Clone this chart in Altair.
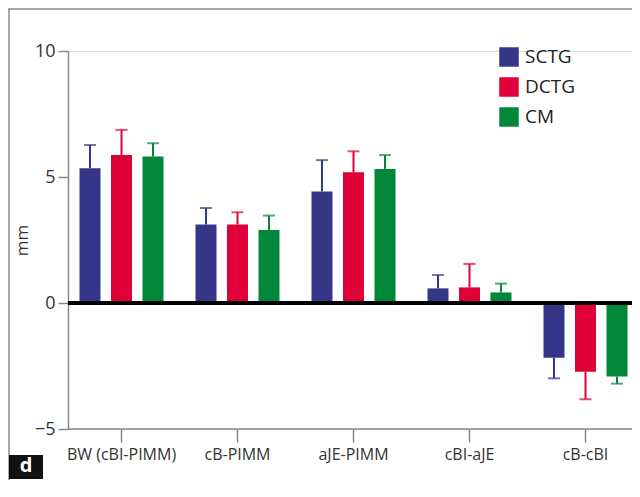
import altair as alt
import pandas as pd

categories = ["BW (cBI-PIMM)", "cB-PIMM", "aJE-PIMM", "cBI-aJE", "cB-cBI"]
groups = ["SCTG", "DCTG", "CM"]
colors = ["#363689", "#DF0038", "#00873A"]

sctg_mean = [5.35, 3.12, 4.42, 0.58, -2.17]
sctg_sd = [0.92, 0.65, 1.25, 0.53, 0.82]
dctg_mean = [5.87, 3.12, 5.19, 0.62, -2.73]
dctg_sd = [1.00, 0.48, 0.83, 0.93, 1.09]
cm_mean = [5.81, 2.90, 5.32, 0.42, -2.92]
cm_sd = [0.53, 0.57, 0.55, 0.35, 0.28]

rows = []
for g, means, sds in [("SCTG", sctg_mean, sctg_sd), ("DCTG", dctg_mean, dctg_sd), ("CM", cm_mean, cm_sd)]:
    for c, m, s in zip(categories, means, sds):
        rows.append({"category": c, "group": g, "mean": m,
                     "end": m + s if m >= 0 else m - s})
df = pd.DataFrame(rows)

FONT = "Open Sans"
W = 564
H = 378

x_enc = alt.X("category:N", sort=categories,
              scale=alt.Scale(paddingInner=0, paddingOuter=0, range=[-4.5, 575.5]),
              axis=alt.Axis(title=None, labelAngle=0, labelFontSize=16, labelColor="#333",
                            labelPadding=4, domain=False,
                            tickColor="#888", tickWidth=1.5, tickSize=13, labelFont=FONT))
xo_enc = alt.XOffset("group:N", sort=groups,
                     scale=alt.Scale(paddingInner=0.333, paddingOuter=0.508))
y_scale = alt.Scale(domain=[-5, 10], nice=False, zero=False)
color_enc = alt.Color("group:N", sort=groups,
                      scale=alt.Scale(domain=groups, range=colors),
                      legend=alt.Legend(title=None, orient="none", legendX=431, legendY=-4,
                                        symbolType="square", symbolSize=380,
                                        symbolStrokeWidth=0, labelFontSize=19,
                                        labelColor="#222", rowPadding=10, labelOffset=6,
                                        labelFont=FONT))

base = alt.Chart(df)

bars = base.mark_bar().encode(
    x=x_enc, xOffset=xo_enc,
    y=alt.Y("mean:Q", scale=y_scale,
            axis=alt.Axis(values=[-5, 0, 5, 10], title="mm", titleFontSize=17,
                          titleFontWeight="normal", titleColor="#333", titlePadding=3,
                          labelFontSize=18, labelColor="#333", labelPadding=3,
                          domainColor="#888", domainWidth=1.5, tickColor="#888",
                          tickWidth=1.5, tickSize=10, grid=False, labelFont=FONT,
                          titleFont=FONT)),
    color=color_enc,
)

err = base.mark_rule(strokeWidth=2).encode(
    x=x_enc, xOffset=xo_enc,
    y=alt.Y("mean:Q", scale=y_scale), y2="end:Q",
    color=alt.Color("group:N", sort=groups, scale=alt.Scale(domain=groups, range=colors), legend=None),
)

caps = base.mark_tick(thickness=2, size=12).encode(
    x=x_enc, xOffset=xo_enc,
    y=alt.Y("end:Q", scale=y_scale),
    color=alt.Color("group:N", sort=groups, scale=alt.Scale(domain=groups, range=colors), legend=None),
)

lines = pd.DataFrame({"z": [0, -5], "c": ["zero", "base"]})
zero = alt.Chart(lines).transform_filter(alt.datum.c == "zero").mark_rule(
    color="black", strokeWidth=4).encode(y=alt.Y("z:Q", scale=y_scale),
                                         x=alt.value(0), x2=alt.value(W))
xbase = alt.Chart(lines).transform_filter(alt.datum.c == "base").mark_rule(
    color="#888", strokeWidth=1.5).encode(y=alt.Y("z:Q", scale=y_scale),
                                          x=alt.value(0), x2=alt.value(W))

one = pd.DataFrame({"a": [0]})
frame_top = alt.Chart(one).mark_rule(color="#8a8a8a", strokeWidth=1.5).encode(
    x=alt.value(-60), x2=alt.value(W), y=alt.value(-42))
frame_left = alt.Chart(one).mark_rule(color="#8a8a8a", strokeWidth=1.5).encode(
    x=alt.value(-59), y=alt.value(-42), y2=alt.value(440))
dbox = alt.Chart(one).mark_rect(color="#111").encode(
    x=alt.value(-59), x2=alt.value(-25), y=alt.value(404), y2=alt.value(428))
dtext = alt.Chart(one).mark_text(text="d", color="white", fontWeight="bold", fontSize=20,
                                 font=FONT, baseline="middle", align="center").encode(
    x=alt.value(-42), y=alt.value(415))

chart = alt.layer(bars, err, caps, zero, xbase, frame_top, frame_left, dbox, dtext).properties(
    width=W, height=H,
    autosize=alt.AutoSizeParams(type="none"),
    padding={"left": 60, "top": 43, "right": 0, "bottom": 51},
).configure_view(strokeWidth=0, stroke="transparent").configure(font=FONT)

chart.save("out.html", embed_options={"renderer": "svg", "actions": False})
